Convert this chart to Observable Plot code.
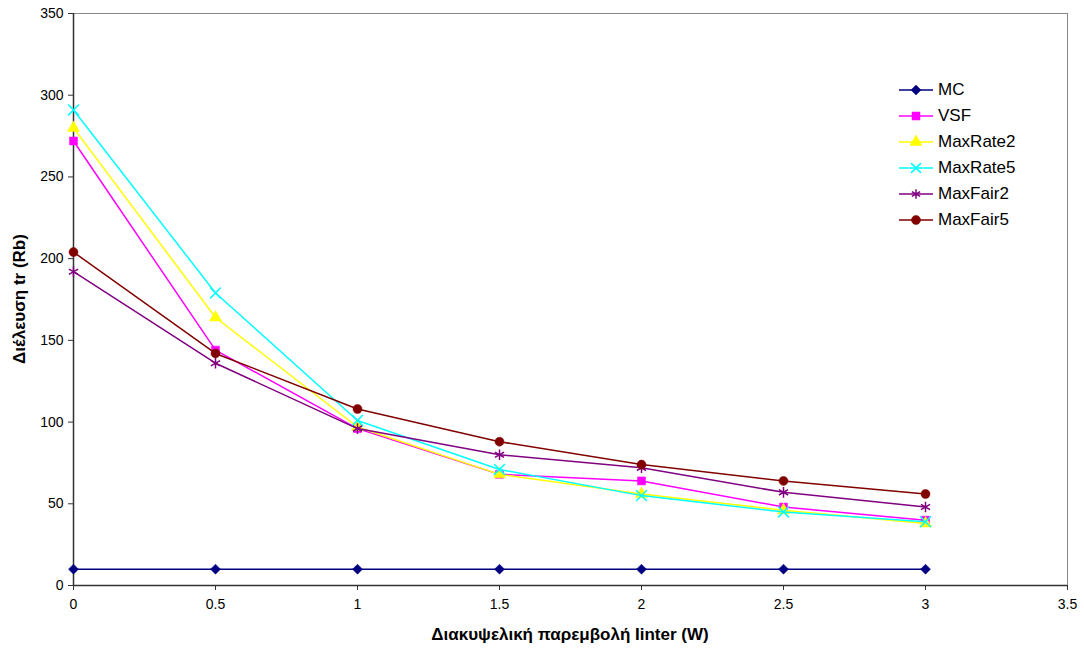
<!DOCTYPE html>
<html><head><meta charset="utf-8">
<script src="https://cdn.jsdelivr.net/npm/d3@7"></script>
<script src="https://cdn.jsdelivr.net/npm/@observablehq/plot@0.6"></script>
<style>
body{margin:0;background:#fff;font-family:"Liberation Sans",Arial,sans-serif;}
#wrap{position:relative;width:1084px;height:650px;}
#legend{position:absolute;left:898px;top:77px;font-size:17px;font-family:"Liberation Sans",Arial,sans-serif;}
.li{display:flex;align-items:center;height:26px;}
.li span{margin-left:4px;}
</style></head>
<body><div id="wrap"><div id="legend"></div></div>
<script>
const xValues = [0, 0.5, 1, 1.5, 2, 2.5, 3];
const MC = [10, 10, 10, 10, 10, 10, 10];
const VSF = [272, 144, 96, 68, 64, 48, 40];
const MaxRate2 = [280, 164, 97, 68, 56, 46, 38];
const MaxRate5 = [291, 179, 101, 71, 55, 45, 39];
const MaxFair2 = [192, 136, 96, 80, 72, 57, 48];
const MaxFair5 = [204, 142, 108, 88, 74, 64, 56];
const seriesNames = ["MC", "VSF", "MaxRate2", "MaxRate5", "MaxFair2", "MaxFair5"];
const seriesColors = ["#000080", "#FF00FF", "#FFFF00", "#00FFFF", "#800080", "#800000"];
const seriesSymbols = ["diamond2", "square", "triangle", "times", "asterisk", "circle"];
const seriesFilled = [true, true, true, false, false, true];
const xTicks = [0, 0.5, 1, 1.5, 2, 2.5, 3, 3.5];
const yTicks = [0, 50, 100, 150, 200, 250, 300, 350];
const xLabel = "Διακυψελική παρεμβολή Iinter (W)";
const yLabel = "Διέλευση tr (Rb)";

const seriesValues = [MC, VSF, MaxRate2, MaxRate5, MaxFair2, MaxFair5];
const data = [];
seriesNames.forEach((s, i) => xValues.forEach((x, j) => data.push({series: s, x, y: seriesValues[i][j]})));

const marks = [
  Plot.ruleY([350], {stroke: "#888", strokeWidth: 1}),
  Plot.ruleX([3.5], {stroke: "#888", strokeWidth: 1}),
  Plot.ruleY([0], {stroke: "#333", strokeWidth: 1.5}),
  Plot.ruleX([0], {stroke: "#333", strokeWidth: 1.5}),
  Plot.axisX({ticks: xTicks, tickSize: 5, tickPadding: 9, fontSize: 14, label: null, tickFormat: d => String(d), stroke: "#333"}),
  Plot.axisY({ticks: yTicks, tickSize: 5, tickPadding: 5, fontSize: 14, label: null, stroke: "#333"}),
];
seriesNames.forEach((s, i) => {
  const d = data.filter(e => e.series === s);
  marks.push(Plot.line(d, {x: "x", y: "y", stroke: seriesColors[i], strokeWidth: 1.5}));
  marks.push(Plot.dot(d, {x: "x", y: "y", symbol: () => seriesSymbols[i], r: seriesSymbols[i] === "asterisk" || seriesSymbols[i] === "times" ? 5 : 4.5,
    fill: seriesFilled[i] ? seriesColors[i] : "none", stroke: seriesColors[i], strokeWidth: seriesFilled[i] ? 0.5 : 1.5}));
});

const chart = Plot.plot({
  width: 1084, height: 650,
  marginLeft: 73, marginRight: 17, marginTop: 13, marginBottom: 65,
  style: {fontFamily: "'Liberation Sans', Arial, sans-serif", fontSize: "14px", color: "#000", background: "#fff"},
  x: {domain: [0, 3.5]},
  y: {domain: [0, 350]},
  symbol: {type: "identity"},
  marks
});
const svg = d3.select(chart);
svg.selectAll("text").style("font-size", "14px");
svg.selectAll("g").filter(function() { return this.getAttribute("font-size"); }).attr("font-size", 14).style("font-size", "14px");
svg.append("text").attr("x", 570).attr("y", 640).attr("text-anchor", "middle")
  .style("font-size", "17px").attr("font-weight", "bold").text(xLabel);
svg.append("text").attr("transform", "translate(25,299) rotate(-90)").attr("text-anchor", "middle")
  .style("font-size", "17px").attr("font-weight", "bold").text(yLabel);
document.getElementById("wrap").prepend(chart);

const leg = d3.select("#legend");
seriesNames.forEach((s, i) => {
  const row = leg.append("div").attr("class", "li");
  const sv = row.append("svg").attr("width", 36).attr("height", 14);
  sv.append("line").attr("x1", 1).attr("x2", 35).attr("y1", 7).attr("y2", 7).attr("stroke", seriesColors[i]).attr("stroke-width", 1.5);
  const symbolType = {diamond2: d3.symbolDiamond2, square: d3.symbolSquare, triangle: d3.symbolTriangle, times: d3.symbolTimes, asterisk: d3.symbolAsterisk, circle: d3.symbolCircle}[seriesSymbols[i]];
  sv.append("path").attr("transform", "translate(18,7)").attr("d", d3.symbol(symbolType, 64)())
    .attr("fill", seriesFilled[i] ? seriesColors[i] : "none").attr("stroke", seriesColors[i]).attr("stroke-width", seriesFilled[i] ? 0.5 : 1.5);
  row.append("span").text(s);
});
</script></body></html>
